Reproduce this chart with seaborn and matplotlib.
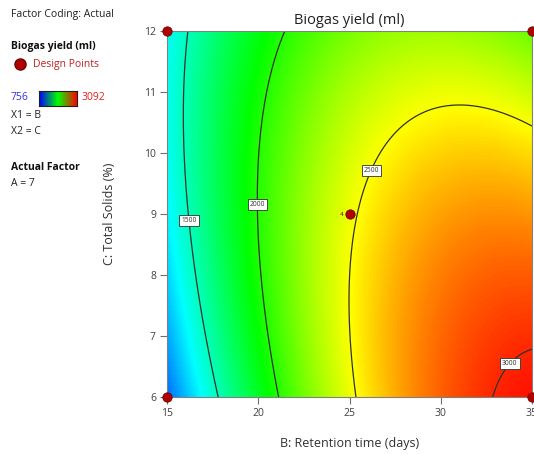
import numpy as np
import pandas as pd
import matplotlib
matplotlib.use("Agg")
import matplotlib.pyplot as plt
from matplotlib.colors import LinearSegmentedColormap, Normalize
import seaborn as sns

sns.set_theme(style="white")
plt.rcParams["font.family"] = ["Open Sans", "DejaVu Sans"]

# Quadratic model in coded units: x1 = (B - 25) / 10, x2 = (C - 9) / 3
# terms: intercept, x1, x2, x1^2, x2^2, x1*x2
model_terms = ["1", "x1", "x2", "x1^2", "x2^2", "x1*x2"]
model_coefs = [2470.4, 712.9, -133.7, -436.6, -139.9, -312.5]

b_range = [15, 35]
c_range = [6, 12]
contour_levels = [1500, 2000, 2500, 3000]
label_spots = [(16.26, 8.9), (19.9, 9.15), (26.2, 9.72), (33.7, 6.57)]

# design points (B, C, replicates)
design_b = [15, 15, 35, 35, 25]
design_c = [6, 12, 12, 6, 9]
design_n = [1, 1, 1, 1, 4]

resp_min, resp_max = 756, 3092
x_ticks = [15, 20, 25, 30, 35]
y_ticks = [6, 7, 8, 9, 10, 11, 12]


def predict(b, c):
    x1 = (b - 25) / 10
    x2 = (c - 9) / 3
    basis = [np.ones_like(x1), x1, x2, x1**2, x2**2, x1 * x2]
    return sum(k * t for k, t in zip(model_coefs, basis))


cmap = LinearSegmentedColormap.from_list(
    "de", ["#0000ff", "#00ffff", "#00ff00", "#ffff00", "#ff0000"])
norm = Normalize(resp_min, resp_max)

W, H = 534, 454
fig = plt.figure(figsize=(W / 100, H / 100), dpi=100)
ax = fig.add_axes([167 / W, 1 - 397 / H, (532 - 167) / W, (397 - 31) / H])

bb = np.linspace(*b_range, 400)
cc = np.linspace(*c_range, 400)
BB, CC = np.meshgrid(bb, cc)
ZZ = predict(BB, CC)
ax.imshow(ZZ, origin="lower", extent=[*b_range, *c_range], aspect="auto",
          cmap=cmap, norm=norm, interpolation="bilinear")
cs = ax.contour(BB, CC, ZZ, levels=contour_levels, colors="#303030", linewidths=0.9)
labels = ax.clabel(cs, fmt="%d", fontsize=4.8, inline=False, manual=label_spots)
for t in labels:
    t.set_rotation(0)
    t.set_color("#303030")
    t.set_zorder(4)
    t.set_bbox(dict(boxstyle="square,pad=0.3", fc="white", ec="#303030", lw=0.6))

pts = pd.DataFrame({"B": design_b, "C": design_c, "n": design_n})
sns.scatterplot(data=pts, x="B", y="C", ax=ax, s=45, color="#b00000",
                edgecolor="#700000", linewidth=0.6, legend=False, clip_on=False, zorder=5)
for b, c, n in zip(design_b, design_c, design_n):
    if n > 1:
        ax.text(b - 0.35, c, str(n), fontsize=4.5, ha="right", va="center", color="#202020")

ax.set_xlim(*b_range)
ax.set_ylim(*c_range)
ax.set_xticks(x_ticks)
ax.set_yticks(y_ticks)
ax.tick_params(axis="both", direction="out", length=5, width=0.8, color="#707070",
               labelsize=7.5, labelcolor="#404040", pad=3, bottom=True, left=True)
for s in ax.spines.values():
    s.set_color("#808080")
    s.set_linewidth(0.8)
ax.set_title("Biogas yield (ml)", fontsize=10.5, color="#202020", pad=5)
ax.set_xlabel("B: Retention time (days)", fontsize=9, color="#303030", labelpad=13)
ax.set_ylabel("C: Total Solids (%)", fontsize=9, color="#303030", labelpad=20)


def ftext(px, py, s, **kw):
    fig.text(px / W, 1 - py / H, s, va="center", ha="left", **kw)


ftext(11, 14, "Factor Coding: Actual", fontsize=7.5, color="#202020")
ftext(11, 47, "Biogas yield (ml)", fontsize=7.5, color="#101010", fontweight="bold")
fig.add_artist(plt.Line2D([20 / W], [1 - 64 / H], marker="o", markersize=8,
                          color="#b00000", markeredgecolor="#700000"))
ftext(33, 64, "Design Points", fontsize=7.5, color="#c02020")
ftext(11, 98, "756", fontsize=7.5, color="#3030e0")
cax = fig.add_axes([39 / W, 1 - 106 / H, 38 / W, 15 / H])
cax.imshow(np.linspace(0, 1, 200)[None, :], aspect="auto", cmap=LinearSegmentedColormap.from_list(
    "bar", ["#0000ff", "#00ff00", "#ff0000"]))
cax.set_xticks([])
cax.set_yticks([])
for s in cax.spines.values():
    s.set_color("#202020")
    s.set_linewidth(0.8)
ftext(81, 98, "3092", fontsize=7.5, color="#e02020")
ftext(11, 115, "X1 = B", fontsize=7.5, color="#202020")
ftext(11, 132, "X2 = C", fontsize=7.5, color="#202020")
ftext(11, 167, "Actual Factor", fontsize=7.5, color="#101010", fontweight="bold")
ftext(11, 184, "A = 7", fontsize=7.5, color="#202020")

fig.savefig("out.png", dpi=100)
